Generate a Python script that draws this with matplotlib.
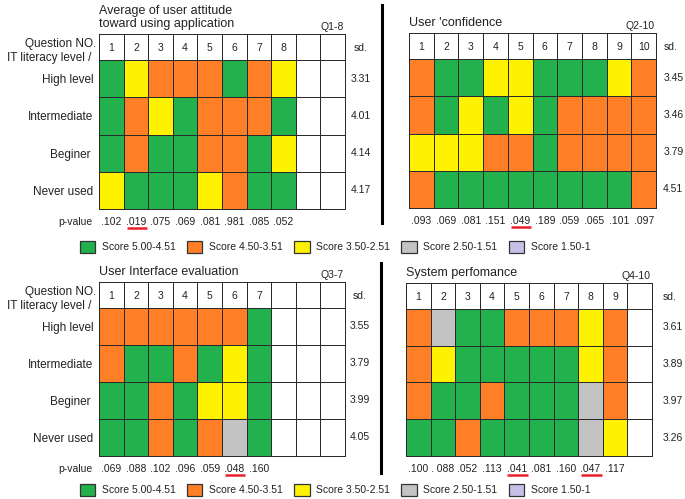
import matplotlib
matplotlib.use('Agg')
import matplotlib.pyplot as plt
import numpy as np
from matplotlib.colors import ListedColormap
from matplotlib.patches import Patch
from matplotlib.lines import Line2D

plt.rcParams['font.family'] = ['Liberation Sans', 'DejaVu Sans']

levels = ['High level', 'Intermediate', 'Beginer ', 'Never used']

# G 5.00-4.51, O 4.50-3.51, Y 3.50-2.51, S 2.50-1.51, L 1.50-1
q1_cells = ['GYOOOGOY', 'GOYGOOOG', 'GOGGOOGY', 'YGGGYOGG']
q1_sd = ['3.31', '4.01', '4.14', '4.17']
q1_p = ['.102', '.019', '.075', '.069', '.081', '.981', '.085', '.052']
q1_sig = [2]

q2_cells = ['OGGYYGGGYO', 'OGYGYGOOOO', 'YYYOOGOOOO', 'OGGGGGGGGO']
q2_sd = ['3.45', '3.46', '3.79', '4.51']
q2_p = ['.093', '.069', '.081', '.151', '.049', '.189', '.059', '.065', '.101', '.097']
q2_sig = [5]

q3_cells = ['OOOOOOG', 'OGGOGYG', 'GGOGYYG', 'GGOGOSG']
q3_sd = ['3.55', '3.79', '3.99', '4.05']
q3_p = ['.069', '.088', '.102', '.096', '.059', '.048', '.160']
q3_sig = [6]

q4_cells = ['OSGGOOOYO', 'OYGGGGGYO', 'OGGOGGGSO', 'GGOGGGGSY']
q4_sd = ['3.61', '3.89', '3.97', '3.26']
q4_p = ['.100', '. 088', '.052', '.113', '.041', '.081', '.160', '.047', '.117']
q4_sig = [5, 8]

band_codes = {'G': 1, 'O': 2, 'Y': 3, 'S': 4, 'L': 5}
band_colors = ['white', '#22b14c', '#ff7f27', '#fff200', '#c3c3c3', '#c8bfe7']
band_labels = ['Score 5.00-4.51', 'Score 4.50-3.51', 'Score 3.50-2.51',
               'Score 2.50-1.51', 'Score 1.50-1']

cmap = ListedColormap(band_colors)
txt = '#222222'
NCOL = 10

fig = plt.figure(figsize=(6.85, 4.99), dpi=100)


def panel(rect, title, qlabel, cells, sd, pvals, sig, left=False, sd_x=(0.6, 0.6)):
    ax = fig.add_axes(rect)
    grid = np.zeros((5, NCOL))
    for r, row in enumerate(cells):
        for c, ch in enumerate(row):
            grid[r + 1, c] = band_codes[ch]
    yedges = [0, 0.7, 1.7, 2.7, 3.7, 4.7]
    mesh = ax.pcolormesh(np.arange(NCOL + 1), yedges, grid, cmap=cmap,
                         vmin=-0.5, vmax=5.5, edgecolors='#2a2a2a', linewidth=0.7)
    mesh.set_clip_on(False)
    ax.set_xlim(0, NCOL)
    ax.set_ylim(4.7, 0)
    ax.axis('off')

    for c in range(len(cells[0])):
        ax.text(c + 0.5, 0.38, str(c + 1), ha='center', va='center', fontsize=7.5, color=txt)
    ax.text(NCOL + sd_x[0], 0.38, 'sd.', ha='center', va='center', fontsize=7.5, color=txt)
    for r, v in enumerate(sd):
        ax.text(NCOL + sd_x[1], r + 1.2, v, ha='center', va='center', fontsize=7.5, color=txt)
    for c, p in enumerate(pvals):
        ax.text(c + 0.5, 5.05, p, ha='center', va='center', fontsize=7.5, color=txt)
    for c in sig:
        ax.plot([c - 1 + 0.12, c - 1 + 0.95], [5.22, 5.22], color='#e8202a', lw=1.8,
                clip_on=False, solid_capstyle='butt')

    ax.text(0, -0.2, title, ha='left', va='baseline', fontsize=9, color=txt,
            linespacing=1.1)
    ax.text(9.95, -0.1, qlabel, ha='right', va='baseline', fontsize=7.5, color=txt)

    if left:
        ax.text(-0.1, 0.28, 'Question NO.', ha='right', va='center', fontsize=8.5, color=txt)
        ax.text(-0.3, 0.65, 'IT literacy level /', ha='right', va='center', fontsize=8.5, color=txt)
        for r, lab in enumerate(levels):
            ax.text(-0.22, r + 1.24, lab, ha='right', va='center', fontsize=8.5, color=txt)
        ax.text(-0.28, 5.05, 'p-value', ha='right', va='center', fontsize=7.5, color=txt)
    return ax


panel([99 / 685, 1 - 209 / 499, 246 / 685, 175 / 499],
      'Average of user attitude\ntoward using application', 'Q1-8',
      q1_cells, q1_sd, q1_p, q1_sig, left=True, sd_x=(0.65, 0.65))
panel([409 / 685, 1 - 208 / 499, 247 / 685, 175 / 499],
      "User 'confidence", 'Q2-10', q2_cells, q2_sd, q2_p, q2_sig, sd_x=(0.6, 0.7))
panel([99 / 685, 1 - 456 / 499, 246 / 685, 174 / 499],
      'User Interface evaluation', 'Q3-7', q3_cells, q3_sd, q3_p, q3_sig, left=True)
panel([406 / 685, 1 - 456 / 499, 246 / 685, 173 / 499],
      'System perfomance', 'Q4-10', q4_cells, q4_sd, q4_p, q4_sig, sd_x=(0.7, 0.85))

# separators
fig.add_artist(Line2D([382 / 685] * 2, [1 - 5 / 499, 1 - 223 / 499], color='black', lw=2.2))
fig.add_artist(Line2D([381 / 685] * 2, [1 - 263 / 499, 1 - 473 / 499], color='black', lw=2.2))

handles = [Patch(facecolor=col, edgecolor='#333333', linewidth=0.9) for col in band_colors[1:]]
for yc in (247, 490):
    fig.legend(handles, band_labels, loc='center', bbox_to_anchor=(335 / 685, 1 - yc / 499),
               ncol=5, frameon=False, fontsize=7.5, handlelength=1.5, handleheight=1.4,
               handletextpad=0.6, columnspacing=1.1, labelcolor=txt, borderpad=0)

fig.savefig('out.png', dpi=100)
